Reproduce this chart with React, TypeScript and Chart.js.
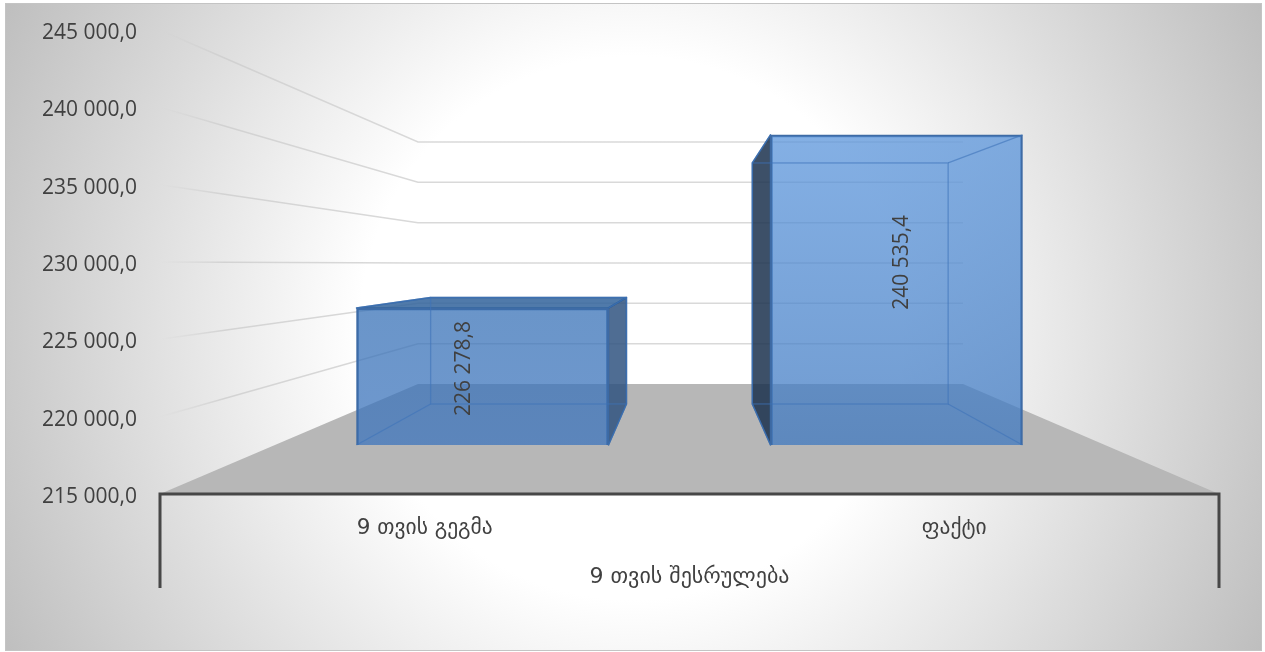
import React, { useEffect, useRef } from "react";
import { Chart, registerables } from "chart.js";

Chart.register(...registerables);

const categories = ["9 თვის გეგმა", "ფაქტი"];
const groupLabel = "9 თვის შესრულება";
const values = [226278.8, 240535.4];
const axisMin = 215000;
const axisMax = 245000;
const axisStep = 5000;

const TEXT = "#404040";
const FONT = '"Open Sans", "DejaVu Sans", sans-serif';
const GEO_FONT = '"DejaVu Sans", sans-serif';

const fmt = (v: number, decimals = 1) => {
  const [i, d] = v.toFixed(decimals).split(".");
  return i.replace(/\B(?=(\d{3})+$)/g, " ") + "," + d;
};

// depth projection of the bar's front face towards its back face
const DEPTH = 0.777;
const VX = 689;
const VY = 261;
const px = (x: number) => VX + (x - VX) * DEPTH;
const py = (y: number) => VY + (y - VY) * DEPTH;

const poly = (ctx: CanvasRenderingContext2D, pts: number[][]) => {
  ctx.beginPath();
  pts.forEach(([x, y], i) => (i ? ctx.lineTo(x, y) : ctx.moveTo(x, y)));
  ctx.closePath();
};

const scene = {
  id: "scene",
  beforeDraw(chart: any) {
    const { ctx, width, height } = chart;
    ctx.save();
    const l = 6, t = 4, r = width - 3, b = height - 1;
    const g = ctx.createRadialGradient(632, 328, 0, 632, 328, 715);
    g.addColorStop(0, "#ffffff");
    g.addColorStop(0.38, "#ffffff");
    g.addColorStop(1, "#bdbdbd");
    ctx.fillStyle = g;
    ctx.fillRect(l, t, r - l, b - t);
    ctx.strokeStyle = "#c4c4c4";
    ctx.lineWidth = 1;
    ctx.strokeRect(l - 0.5, t - 0.5, r - l, b - t);
    ctx.restore();
  },
  beforeDatasetsDraw(chart: any) {
    const { ctx, scales, chartArea } = chart;
    const { left, right, bottom, top } = chartArea;
    const wallLeft = 418;
    const wallRight = 963;
    const wallY = (y: number) => 384 + (y - bottom) * (242 / (bottom - top));
    ctx.save();
    // floor
    ctx.fillStyle = "#b7b7b7";
    poly(ctx, [[left, bottom], [right, bottom], [wallRight, wallY(bottom)], [wallLeft, wallY(bottom)]]);
    ctx.fill();
    // grid lines: side wall then back wall
    for (let v = axisMin + axisStep; v <= axisMax; v += axisStep) {
      const y = scales.y.getPixelForValue(v);
      const g = ctx.createLinearGradient(left, 0, wallLeft, 0);
      g.addColorStop(0, "rgba(205,205,205,0)");
      g.addColorStop(0.25, "rgba(205,205,205,0.8)");
      g.addColorStop(1, "#d9d9d9");
      ctx.strokeStyle = g;
      ctx.lineWidth = 1.5;
      ctx.beginPath();
      ctx.moveTo(left, y);
      ctx.lineTo(wallLeft, wallY(y));
      ctx.lineTo(wallRight, wallY(y));
      ctx.stroke();
    }
    // bar depth: the side faces that stick out of the front face
    ctx.lineJoin = "round";
    chart.getDatasetMeta(0).data.forEach((bar: any) => {
      const x0 = bar.x - bar.width / 2, x1 = bar.x + bar.width / 2;
      const y0 = bar.y, y1 = bar.base;
      const faces = [
        { pts: [[x0, y0], [x1, y0], [px(x1), py(y0)], [px(x0), py(y0)]], out: py(y0) < y0, fill: "rgba(49,99,155,0.85)" },
        { pts: [[x1, y0], [x1, y1], [px(x1), py(y1)], [px(x1), py(y0)]], out: px(x1) > x1, fill: "rgba(48,84,128,0.85)" },
        { pts: [[x0, y0], [x0, y1], [px(x0), py(y1)], [px(x0), py(y0)]], out: px(x0) < x0, fill: "rgba(27,49,77,0.85)" },
      ];
      faces.forEach((f) => {
        if (!f.out) return;
        poly(ctx, f.pts);
        ctx.fillStyle = f.fill;
        ctx.fill();
        ctx.strokeStyle = "rgba(50,100,160,0.9)";
        ctx.lineWidth = 1.5;
        ctx.stroke();
      });
    });
    ctx.restore();
  },
  afterDatasetsDraw(chart: any) {
    const { ctx, chartArea } = chart;
    const { left, right, bottom } = chartArea;
    ctx.save();
    chart.getDatasetMeta(0).data.forEach((bar: any, i: number) => {
      const x0 = bar.x - bar.width / 2, x1 = bar.x + bar.width / 2;
      const y0 = bar.y, y1 = bar.base;
      // edges of the back face seen through the front
      ctx.strokeStyle = "rgba(62,115,185,0.6)";
      ctx.lineWidth = 1.3;
      ctx.strokeRect(px(x0), py(y0), px(x1) - px(x0), py(y1) - py(y0));
      ctx.beginPath();
      ctx.moveTo(x0, y1); ctx.lineTo(px(x0), py(y1));
      ctx.moveTo(x1, y1); ctx.lineTo(px(x1), py(y1));
      ctx.moveTo(x0, y0); ctx.lineTo(px(x0), py(y0));
      ctx.moveTo(x1, y0); ctx.lineTo(px(x1), py(y0));
      ctx.stroke();
      // value label
      ctx.save();
      ctx.translate(bar.x * 1.058 - 46, 0.613 * bar.y + 179.7);
      ctx.rotate(-Math.PI / 2);
      ctx.font = `21px ${FONT}`;
      ctx.fillStyle = TEXT;
      ctx.textAlign = "center";
      ctx.textBaseline = "middle";
      ctx.fillText(fmt(values[i]), 0, 0);
      ctx.restore();
    });
    // axis frame
    ctx.strokeStyle = "#474747";
    ctx.lineWidth = 3;
    ctx.lineCap = "butt";
    ctx.lineJoin = "miter";
    ctx.beginPath();
    ctx.moveTo(left, 588);
    ctx.lineTo(left, bottom);
    ctx.lineTo(right, bottom);
    ctx.lineTo(right, 588);
    ctx.stroke();
    ctx.restore();
  },
};

export default function App() {
  const ref = useRef<HTMLCanvasElement | null>(null);
  useEffect(() => {
    document.body.style.margin = "0";
    const canvas = ref.current!;
    const ctx = canvas.getContext("2d")!;
    const plannedFill = ctx.createLinearGradient(0, 308, 0, 445);
    plannedFill.addColorStop(0, "rgba(54,112,182,0.74)");
    plannedFill.addColorStop(1, "rgba(60,116,189,0.74)");
    const actualFill = ctx.createLinearGradient(0, 135, 0, 445);
    actualFill.addColorStop(0, "rgba(89,148,219,0.74)");
    actualFill.addColorStop(1, "rgba(62,120,192,0.74)");
    const chart = new Chart(canvas, {
      type: "bar",
      data: {
        labels: categories,
        datasets: [
          {
            data: values.map((y, x) => ({ x, y })) as any,
            xAxisID: "x2",
            yAxisID: "y2",
            base: axisMin,
            barThickness: 252,
            backgroundColor: [plannedFill, actualFill],
            borderColor: "#3e6ba5",
            borderWidth: 2,
          },
        ],
      },
      plugins: [scene],
      options: {
        responsive: false,
        animation: false,
        layout: { padding: { top: 30, right: 46, left: 0, bottom: 0 } },
        plugins: { legend: { display: false }, tooltip: { enabled: false } },
        scales: {
          x: {
            type: "category",
            position: "bottom",
            grid: { display: false, drawTicks: false },
            border: { display: false },
            afterFit: (s: any) => {
              s.height = 158;
              s.paddingLeft = 0;
              s.paddingRight = 0;
            },
            ticks: {
              autoSkip: false,
              maxRotation: 0,
              padding: 22,
              color: TEXT,
              font: { family: GEO_FONT, size: 21.5 },
            },
            title: {
              display: true,
              text: groupLabel,
              color: TEXT,
              font: { family: GEO_FONT, size: 22 },
              padding: { top: 0, bottom: 62 },
            },
          },
          y: {
            type: "linear",
            position: "left",
            min: axisMin,
            max: axisMax,
            grid: { display: false, drawTicks: false },
            border: { display: false },
            afterFit: (s: any) => {
              s.width = 160;
              s.paddingTop = 0;
              s.paddingBottom = 0;
            },
            ticks: {
              stepSize: axisStep,
              padding: 23,
              labelOffset: 3,
              color: TEXT,
              font: { family: FONT, size: 21 },
              callback: (v: any) => fmt(Number(v)),
            },
          },
          x2: { type: "linear", axis: "x", display: false, offset: false, min: -0.779, max: 1.779 },
          y2: { type: "linear", axis: "y", display: false, min: 210966, max: 249165 },
        } as any,
      },
    });
    return () => chart.destroy();
  }, []);
  return <canvas ref={ref} width={1265} height={652} style={{ display: "block" }} />;
}
